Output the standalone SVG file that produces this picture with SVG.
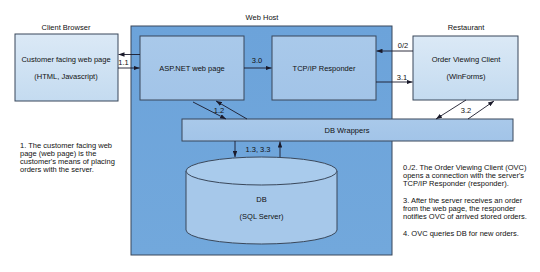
<svg xmlns="http://www.w3.org/2000/svg" width="540" height="272" viewBox="0 0 540 272">
<style>
text{font-family:"Liberation Sans",Arial,sans-serif;font-size:7.5px;fill:#111}
.c{text-anchor:middle}
.box{stroke:#39475a;stroke-width:1}
.ln{stroke:#1a1a2a;stroke-width:0.9;fill:none}
</style>
<defs>
<linearGradient id="gOut" x1="0" y1="0" x2="0" y2="1"><stop offset="0" stop-color="#dbe9f6"/><stop offset="1" stop-color="#c4dbf0"/></linearGradient>
<linearGradient id="gHost" x1="0" y1="0" x2="0" y2="1"><stop offset="0" stop-color="#6ca3da"/><stop offset="1" stop-color="#72a8dc"/></linearGradient>
<linearGradient id="gIn" x1="0" y1="0" x2="0" y2="1"><stop offset="0" stop-color="#a9c9ea"/><stop offset="1" stop-color="#a2c4e8"/></linearGradient>
<marker id="ah" viewBox="0 0 8 6" refX="8" refY="3" markerWidth="6" markerHeight="4.5" orient="auto" markerUnits="userSpaceOnUse"><path d="M0,0 L8,3 L0,6 z" fill="#1a1a2a"/></marker>
</defs>
<rect width="540" height="272" fill="#fff"/>

<g id="webhost">
<rect class="box" x="131" y="26" width="261" height="229" fill="url(#gHost)"/>
<text class="c" x="262" y="20">Web Host</text>
</g>

<g id="client">
<text class="c" x="66" y="30">Client Browser</text>
<rect class="box" x="15" y="34" width="103" height="67" fill="url(#gOut)"/>
<text class="c" x="66" y="62">Customer facing web page</text>
<text class="c" x="66" y="79">(HTML, Javascript)</text>
</g>

<g id="asp">
<rect class="box" x="140" y="36" width="104" height="64" fill="url(#gIn)"/>
<text class="c" x="192" y="71">ASP.NET web page</text>
</g>

<g id="tcp">
<rect class="box" x="272" y="36" width="104" height="64" fill="url(#gIn)"/>
<text class="c" x="324" y="71">TCP/IP Responder</text>
</g>

<g id="ovc">
<text class="c" x="466" y="30">Restaurant</text>
<rect class="box" x="413" y="36" width="105" height="64" fill="url(#gOut)"/>
<text class="c" x="466" y="62">Order Viewing Client</text>
<text class="c" x="466" y="79">(WinForms)</text>
</g>

<g id="dbwrappers">
<rect class="box" x="182" y="119" width="331" height="22" fill="url(#gIn)"/>
<text class="c" x="347" y="133">DB Wrappers</text>
</g>

<g id="db">
<path class="box" d="M186,171 L186,230 A75.5,14 0 0 0 337,230 L337,171" fill="#a6c8ea"/>
<ellipse class="box" cx="261.5" cy="171" rx="75.5" ry="14" fill="#a9cbec"/>
<text class="c" x="261.5" y="202">DB</text>
<text class="c" x="261.5" y="219">(SQL Server)</text>
</g>

<g id="connectors">
<line class="ln" x1="140" y1="54.5" x2="118.5" y2="54.5" marker-end="url(#ah)"/>
<line class="ln" x1="118" y1="68" x2="139.5" y2="68" marker-end="url(#ah)"/>
<line class="ln" x1="244" y1="68" x2="271.5" y2="68" marker-end="url(#ah)"/>
<line class="ln" x1="413" y1="51" x2="376.5" y2="51" marker-end="url(#ah)"/>
<line class="ln" x1="376" y1="82" x2="412.5" y2="82" marker-end="url(#ah)"/>
<line class="ln" x1="193" y1="102" x2="226" y2="119" marker-end="url(#ah)"/>
<line class="ln" x1="247" y1="119" x2="216" y2="101" marker-end="url(#ah)"/>
<line class="ln" x1="466" y1="100" x2="436" y2="119" marker-end="url(#ah)"/>
<line class="ln" x1="468" y1="119" x2="494" y2="101" marker-end="url(#ah)"/>
<line class="ln" x1="235" y1="141" x2="235" y2="157" marker-end="url(#ah)"/>
<line class="ln" x1="280" y1="157" x2="280" y2="141.5" marker-end="url(#ah)"/>
<text class="c" x="123.5" y="65">1.1</text>
<text class="c" x="257" y="63">3.0</text>
<text class="c" x="403" y="48">0/2</text>
<text class="c" x="402" y="80">3.1</text>
<text class="c" x="219" y="113">1.2</text>
<text class="c" x="466" y="113">3.2</text>
<text class="c" x="258" y="152">1.3, 3.3</text>
</g>

<g id="notes">
<text x="20" y="148">1. The customer facing web</text>
<text x="20" y="156">page (web page) is the</text>
<text x="20" y="164">customer's means of placing</text>
<text x="20" y="172">orders with the server.</text>
<text x="403" y="170">0./2. The Order Viewing Client (OVC)</text>
<text x="403" y="178">opens a connection with the server's</text>
<text x="403" y="186">TCP/IP Responder (responder).</text>
<text x="403" y="203">3. After the server receives an order</text>
<text x="403" y="211">from the web page, the responder</text>
<text x="403" y="219">notifies OVC of arrived stored orders.</text>
<text x="403" y="236">4. OVC queries DB for new orders.</text>
</g>
</svg>
